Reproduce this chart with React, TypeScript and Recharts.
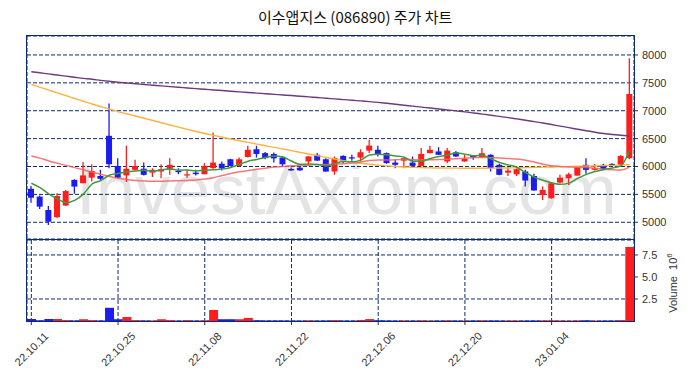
import { ComposedChart, Bar, Line, XAxis, YAxis, CartesianGrid, Cell } from 'recharts'

const dates = [
  '22.10.11', '22.10.12', '22.10.13', '22.10.14', '22.10.17', '22.10.18', '22.10.19', '22.10.20', '22.10.21', '22.10.24',
  '22.10.25', '22.10.26', '22.10.27', '22.10.28', '22.10.31', '22.11.01', '22.11.02', '22.11.03', '22.11.04', '22.11.07',
  '22.11.08', '22.11.09', '22.11.10', '22.11.11', '22.11.14', '22.11.15', '22.11.16', '22.11.17', '22.11.18', '22.11.21',
  '22.11.22', '22.11.23', '22.11.24', '22.11.25', '22.11.28', '22.11.29', '22.11.30', '22.12.01', '22.12.02', '22.12.05',
  '22.12.06', '22.12.07', '22.12.08', '22.12.09', '22.12.12', '22.12.13', '22.12.14', '22.12.15', '22.12.16', '22.12.19',
  '22.12.20', '22.12.21', '22.12.22', '22.12.23', '22.12.26', '22.12.27', '22.12.28', '22.12.29', '23.01.02', '23.01.03',
  '23.01.04', '23.01.05', '23.01.06', '23.01.09', '23.01.10', '23.01.11', '23.01.12', '23.01.13', '23.01.16', '23.01.17',
]

const opens = [
  5600, 5460, 5220, 5090, 5300, 5760, 5700, 5800, 5830, 6550,
  6010, 5840, 5940, 5960, 5890, 5910, 5950, 5920, 5845, 5890,
  5862, 5970, 6050, 6130, 6010, 6170, 6310, 6240, 6225, 6160,
  5955, 5980, 6090, 6210, 6130, 5910, 6190, 6165, 6160, 6285,
  6300, 6240, 6070, 6105, 6070, 6010, 6240, 6270, 6090, 6255,
  6090, 6190, 6167, 6210, 6030, 5890, 5862, 5910, 5830, 5490,
  5432, 5712, 5790, 5837, 6030, 5940, 6030, 6047, 6030, 6150,
]
const highs = [
  5650, 5480, 5290, 5520, 5580, 5770, 6080, 6040, 5940, 7130,
  6150, 6370, 6120, 6070, 5970, 6040, 6150, 5970, 5940, 5940,
  6060, 6610, 6090, 6140, 6160, 6370, 6370, 6260, 6250, 6190,
  5980, 5990, 6190, 6240, 6150, 6180, 6200, 6210, 6310, 6480,
  6370, 6250, 6120, 6150, 6180, 6330, 6370, 6345, 6330, 6280,
  6210, 6200, 6330, 6220, 6050, 5990, 5970, 5940, 5870, 5640,
  5720, 5850, 5890, 6000, 6150, 6045, 6050, 6060, 6200, 7940,
]
const lows = [
  5350, 5240, 4950, 5080, 5290, 5510, 5700, 5730, 5760, 5970,
  5790, 5720, 5930, 5840, 5810, 5790, 5850, 5860, 5800, 5840,
  5860, 5960, 5930, 6000, 6000, 6160, 6160, 6130, 6070, 6000,
  5925, 5925, 6010, 6100, 5905, 5850, 6060, 6105, 6090, 6240,
  6180, 6050, 5970, 5970, 6000, 6000, 6235, 6205, 6060, 6170,
  6085, 6120, 6160, 5910, 5845, 5830, 5830, 5640, 5565, 5400,
  5420, 5700, 5670, 5835, 5870, 5930, 5955, 6005, 6020, 6130,
]
const closes = [
  5440, 5280, 5010, 5470, 5560, 5640, 5840, 5920, 5780, 6040,
  5800, 5960, 6010, 5850, 5940, 5950, 6030, 5905, 5860, 5862,
  6010, 6070, 5965, 6010, 6130, 6300, 6225, 6150, 6145, 6040,
  5930, 5930, 6180, 6105, 5910, 6150, 6105, 6150, 6256, 6375,
  6220, 6060, 6030, 6150, 6010, 6226, 6300, 6210, 6285, 6180,
  6137, 6160, 6238, 5970, 5850, 5927, 5952, 5748, 5570, 5580,
  5700, 5800, 5860, 5988, 5940, 5970, 5957, 6011, 6190, 7300,
]
// volume, millions of shares
const volumes = [
  0.23, 0.08, 0.23, 0.23, 0.1, 0.06, 0.2, 0.1, 0.06, 1.5,
  0.2, 0.45, 0.1, 0.06, 0.06, 0.2, 0.1, 0.05, 0.1, 0.05,
  0.08, 1.25, 0.2, 0.2, 0.2, 0.35, 0.08, 0.06, 0.06, 0.06,
  0.05, 0.05, 0.08, 0.05, 0.06, 0.1, 0.05, 0.05, 0.12, 0.22,
  0.08, 0.06, 0.05, 0.07, 0.05, 0.08, 0.06, 0.05, 0.08, 0.05,
  0.05, 0.06, 0.08, 0.06, 0.05, 0.06, 0.06, 0.05, 0.06, 0.07,
  0.08, 0.06, 0.05, 0.07, 0.08, 0.05, 0.05, 0.05, 0.1, 8.4,
]
const ma5 = [
  5700, 5620, 5510, 5420, 5352, 5392, 5504, 5686, 5748, 5844,
  5876, 5900, 5918, 5932, 5912, 5942, 5956, 5935, 5937, 5921,
  5933, 5941, 5953, 5983, 6037, 6095, 6126, 6163, 6190, 6172,
  6098, 6039, 6045, 6037, 6011, 6055, 6090, 6084, 6114, 6207,
  6221, 6212, 6188, 6167, 6094, 6095, 6143, 6179, 6206, 6240,
  6222, 6194, 6200, 6137, 6071, 6029, 5987, 5889, 5809, 5755,
  5710, 5680, 5702, 5786, 5858, 5912, 5943, 5973, 6014, 6286,
]
const ma20 = [
  6190, 6150, 6100, 6060, 6020, 5980, 5940, 5900, 5860, 5820,
  5790, 5765, 5750, 5740, 5735, 5735, 5740, 5745, 5750, 5757,
  5775, 5800, 5840, 5875, 5905, 5930, 5950, 5970, 5990, 6000,
  6012, 6016, 6024, 6037, 6035, 6045, 6049, 6061, 6081, 6107,
  6117, 6117, 6120, 6127, 6121, 6117, 6121, 6124, 6131, 6138,
  6148, 6160, 6163, 6156, 6153, 6142, 6134, 6114, 6080, 6040,
  6014, 6001, 5993, 5985, 5981, 5968, 5951, 5941, 5936, 5992,
]
const ma60 = [
  7470, 7420, 7370, 7320, 7270, 7220, 7170, 7120, 7075, 7030,
  6985, 6945, 6905, 6865, 6825, 6785, 6745, 6705, 6665, 6628,
  6592, 6558, 6525, 6493, 6462, 6432, 6402, 6372, 6342, 6313,
  6284, 6254, 6224, 6194, 6164, 6134, 6105, 6080, 6058, 6040,
  6025, 6012, 6001, 5992, 5985, 5980, 5976, 5973, 5971, 5970,
  5969, 5969, 5969, 5970, 5972, 5974, 5977, 5980, 5984, 5988,
  5992, 5996, 6000, 6004, 6008, 6012, 6016, 6020, 6025, 6035,
]
const ma120 = [
  7700, 7680, 7660, 7640, 7620, 7600, 7580, 7565, 7545, 7528,
  7510, 7497, 7484, 7471, 7458, 7445, 7432, 7420, 7408, 7396,
  7385, 7373, 7362, 7350, 7338, 7327, 7316, 7305, 7294, 7283,
  7272, 7260, 7248, 7236, 7224, 7212, 7200, 7188, 7176, 7164,
  7150, 7133, 7116, 7099, 7082, 7065, 7048, 7031, 7014, 6997,
  6980, 6960, 6940, 6920, 6898, 6876, 6853, 6830, 6805, 6780,
  6752, 6724, 6696, 6668, 6640, 6614, 6592, 6574, 6560, 6548,
]

const dateTicks = ['22.10.11', '22.10.25', '22.11.08', '22.11.22', '22.12.06', '22.12.20', '23.01.04']
const priceTicks = [5000, 5500, 6000, 6500, 7000, 7500, 8000]
const volumeTicks = [2.5, 5, 7.5]

const UP = '#ff1c1c'
const DOWN = '#1c1cf0'
const NAVY = '#0d2a6e'
const FONT = '"Liberation Sans", Arial, sans-serif'

const rows = dates.map((date, i) => ({
  date,
  open: opens[i],
  high: highs[i],
  low: lows[i],
  close: closes[i],
  volume: volumes[i],
  ma5: ma5[i],
  ma20: ma20[i],
  ma60: ma60[i],
  ma120: ma120[i],
}))

function Candle(props: any) {
  const { x, y, width, height, payload } = props
  const top = Math.min(y, y + height)
  const bottom = Math.max(y, y + height)
  const span = payload.high - payload.low || 1
  const toY = (p: number) => top + ((payload.high - p) / span) * (bottom - top)
  const up = payload.close > payload.open
  const color = up ? UP : DOWN
  const bodyTop = toY(Math.max(payload.open, payload.close))
  const bodyBottom = toY(Math.min(payload.open, payload.close))
  const cx = x + width / 2
  return (
    <g>
      <line x1={cx} x2={cx} y1={top} y2={bottom} stroke={color} strokeWidth={1.3} />
      <rect x={x} y={bodyTop} width={width} height={Math.max(bodyBottom - bodyTop, 1.2)} fill={color} />
    </g>
  )
}

function DateTick(props: any) {
  const { x, y, payload } = props
  return (
    <g transform={`translate(${x},${y + 22}) rotate(-45)`}>
      <text textAnchor="middle" dominantBaseline="central" fontSize={11} fill="#333" fontFamily={FONT}>
        {payload.value}
      </text>
    </g>
  )
}

export default function App() {
  return (
    <div style={{ position: 'absolute', left: 0, top: 0, width: 691, height: 380, background: '#fff', overflow: 'hidden' }}>
      <div
        style={{
          position: 'absolute',
          left: 258,
          top: 6,
          lineHeight: '22px',
          fontSize: 15,
          color: '#111',
          whiteSpace: 'nowrap',
          fontFamily: '"Noto Sans CJK KR", sans-serif',
        }}
      >
        이수앱지스 (086890) 주가 차트
      </div>
      <div
        style={{
          position: 'absolute',
          left: 76,
          top: 150,
          fontSize: 71,
          lineHeight: '80px',
          color: '#e4e4e4',
          fontFamily: FONT,
          whiteSpace: 'nowrap',
        }}
      >
        InvestAxiom.com
      </div>
      <div style={{ position: 'absolute', left: 0, top: 0 }}>
        <ComposedChart width={691} height={240} data={rows} margin={{ top: 36, right: 0, bottom: 1, left: 27 }} barCategoryGap={0}>
          <CartesianGrid stroke={NAVY} strokeDasharray="4 2" strokeWidth={1} />
          <XAxis dataKey="date" ticks={dateTicks} tick={false} axisLine={false} tickLine={false} height={0} />
          <YAxis
            orientation="right"
            width={57}
            domain={[4700, 8340]}
            ticks={priceTicks}
            allowDataOverflow
            axisLine={false}
            tickSize={4}
            tickMargin={4}
            tickLine={{ stroke: '#333' }}
            tick={{ fontSize: 11, fill: '#333', fontFamily: FONT }}
          />
          <Bar dataKey={(d: any) => [d.low, d.high]} barSize={6} shape={Candle} isAnimationActive={false} />
          <Line type="monotone" dataKey="ma120" stroke="#6e3a7c" strokeWidth={1.4} dot={false} isAnimationActive={false} />
          <Line type="monotone" dataKey="ma60" stroke="#ffb23e" strokeWidth={1.4} dot={false} isAnimationActive={false} />
          <Line type="monotone" dataKey="ma20" stroke="#f46060" strokeOpacity={0.85} strokeWidth={1.5} dot={false} isAnimationActive={false} />
          <Line type="monotone" dataKey="ma5" stroke="#3f9a3f" strokeWidth={1.5} dot={false} isAnimationActive={false} />
        </ComposedChart>
      </div>
      <div style={{ position: 'absolute', left: 0, top: 240 }}>
        <ComposedChart width={691} height={140} data={rows} margin={{ top: 0, right: 0, bottom: 0, left: 27 }} barCategoryGap={0} barGap={0}>
          <CartesianGrid stroke={NAVY} strokeDasharray="4 2" strokeWidth={1} />
          <XAxis
            dataKey="date"
            ticks={dateTicks}
            interval={0}
            height={59}
            axisLine={false}
            tickSize={4}
            tickLine={{ stroke: '#333' }}
            tick={<DateTick />}
          />
          <YAxis
            orientation="right"
            width={57}
            domain={[0, 9.2]}
            ticks={volumeTicks}
            allowDataOverflow
            axisLine={false}
            tickSize={4}
            tickMargin={4}
            tickLine={{ stroke: '#333' }}
            tickFormatter={(v: number) => v.toFixed(1)}
            tick={{ fontSize: 11, fill: '#333', fontFamily: FONT }}
          />
          <Bar dataKey="volume" isAnimationActive={false}>
            {rows.map((r, i) => (
              <Cell key={i} fill={r.close > r.open ? UP : DOWN} />
            ))}
          </Bar>
        </ComposedChart>
      </div>
      <div style={{ position: 'absolute', left: 26, top: 35, width: 609, height: 205, border: `1.5px solid ${NAVY}`, boxSizing: 'border-box', pointerEvents: 'none' }} />
      <div style={{ position: 'absolute', left: 26, top: 239, width: 609, height: 83, border: `1.5px solid ${NAVY}`, boxSizing: 'border-box', pointerEvents: 'none' }} />
      <div
        style={{
          position: 'absolute',
          left: 672,
          top: 283,
          transform: 'translate(-50%, -50%) rotate(-90deg)',
          fontSize: 11,
          color: '#333',
          fontFamily: FONT,
          whiteSpace: 'nowrap',
        }}
      >
        Volume&nbsp;&nbsp;10<sup style={{ fontSize: 8 }}>6</sup>
      </div>
    </div>
  )
}
